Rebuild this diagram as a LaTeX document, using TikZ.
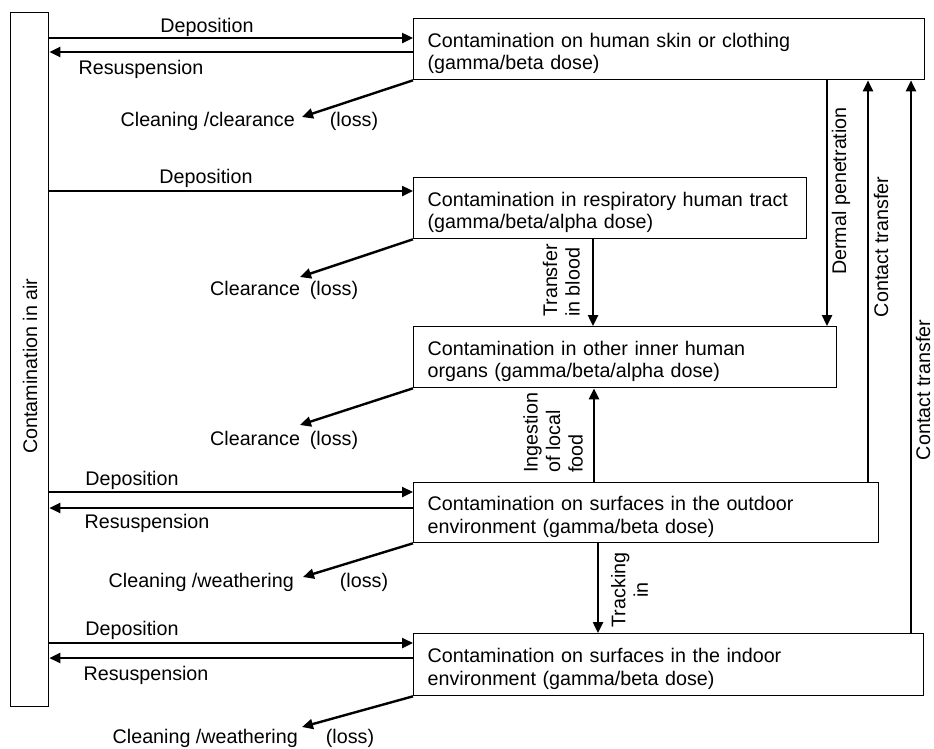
\documentclass[tikz,border=0pt]{standalone}
\usepackage{fontspec}
\setmainfont{Liberation Sans}
\usetikzlibrary{arrows.meta}
\newcommand\boxstrut{\rule{0pt}{23pt}}
\begin{document}
\begin{tikzpicture}[x=1pt,y=-1pt,
  every node/.style={font=\fontsize{19.7}{22.5}\selectfont, inner sep=0pt},
  box/.style={draw, line width=1.3pt, anchor=north west, align=left, inner xsep=14pt, minimum height=61pt},
  arr/.style={line width=2.4pt, -{Triangle[length=11pt,width=10pt]}},
  vlbl/.style={rotate=90, align=left, anchor=south west},
  lbl/.style={anchor=base}]
\useasboundingbox (0,0) rectangle (934,748);
% compartments
\node[draw, line width=1.3pt, anchor=north west, minimum width=38pt, minimum height=694pt] (air) at (10,12) {};
\node[rotate=90, anchor=base] (airtxt) at (37,366) {Contamination in air};
\node[box, text width=483pt] (b1) at (413,18) {\boxstrut Contamination on human skin or clothing\\(gamma/beta dose)};
\node[box, text width=365pt] (b2) at (413,177) {\boxstrut Contamination in respiratory human tract\\(gamma/beta/alpha dose)};
\node[box, text width=395pt] (b3) at (413,326) {\boxstrut Contamination in other inner human\\organs (gamma/beta/alpha dose)};
\node[box, text width=437pt, minimum height=60pt] (b4) at (413,482) {\boxstrut Contamination on surfaces in the outdoor\\environment (gamma/beta dose)};
\node[box, text width=482pt, minimum height=62pt] (b5) at (413,633) {\boxstrut Contamination on surfaces in the indoor\\environment (gamma/beta dose)};
% row y levels
\coordinate (d1) at (0,38);  \coordinate (r1) at (0,52);
\coordinate (d2) at (0,191);
\coordinate (d4) at (0,492); \coordinate (r4) at (0,508);
\coordinate (d5) at (0,643); \coordinate (r5) at (0,658);
% horizontal exchanges
\draw[arr] (air.east |- d1) -- (b1.west |- d1);
\draw[arr] (b1.west |- r1) -- (air.east |- r1);
\draw[arr] (air.east |- d2) -- (b2.west |- d2);
\draw[arr] (air.east |- d4) -- (b4.west |- d4);
\draw[arr] (b4.west |- r4) -- (air.east |- r4);
\draw[arr] (air.east |- d5) -- (b5.west |- d5);
\draw[arr] (b5.west |- r5) -- (air.east |- r5);
\node[lbl] (ld1) at (207,32) {Deposition};
\node[lbl] (lr1) at (141,74) {Resuspension};
\node[lbl] (ld2) at (206,183) {Deposition};
\node[lbl] (ld4) at (132,485) {Deposition};
\node[lbl] (lr4) at (147,528) {Resuspension};
\node[lbl] (ld5) at (132,635) {Deposition};
\node[lbl] (lr5) at (146,680) {Resuspension};
% losses
\coordinate (t1) at (302,117);
\coordinate (t2) at (300,277);
\coordinate (t3) at (300,425);
\coordinate (t4) at (303,577);
\coordinate (t5) at (302,727);
\draw[arr] (b1.south west) -- (t1);
\draw[arr] (b2.south west) -- (t2);
\draw[arr] (b3.south west) -- (t3);
\draw[arr] (b4.south west) -- (t4);
\draw[arr] (b5.south west) -- (t5);
\node[anchor=base east] (c1) at (295,126) {Cleaning /clearance};
\node[lbl] (l1) at (354,126) {(loss)};
\node[anchor=base west] (c2) at (210,295) {Clearance};
\node[lbl] (l2) at (334,295) {(loss)};
\node[anchor=base west] (c3) at (210,445) {Clearance};
\node[lbl] (l3) at (334,445) {(loss)};
\node[anchor=base east] (c4) at (294,587) {Cleaning /weathering};
\node[lbl] (l4) at (364,587) {(loss)};
\node[anchor=base east] (c5) at (298,743) {Cleaning /weathering};
\node[lbl] (l5) at (350,743) {(loss)};
% vertical transfers
\coordinate (xb) at (593,0);
\coordinate (xi) at (594,0);
\coordinate (xt) at (598,0);
\coordinate (xd) at (827,0);
\coordinate (xc1) at (868,0);
\coordinate (xc2) at (911,0);
\draw[arr] (xb |- b2.south) -- (xb |- b3.north);
\draw[arr] (xi |- b4.north) -- (xi |- b3.south);
\draw[arr] (xt |- b4.south) -- (xt |- b5.north);
\draw[arr] (xd |- b1.south) -- (xd |- b3.north);
\draw[arr] (xc1 |- b4.north) -- (xc1 |- b1.south);
\draw[arr] (xc2 |- b5.north) -- (xc2 |- b1.south);
\node[vlbl] (vb) at (580,317) {Transfer\\in blood};
\node[vlbl] (vi) at (583,473) {Ingestion\\of local\\food};
\node[rotate=90, align=center, anchor=south] (vt) at (648,590) {Tracking\\in};
\node[rotate=90, anchor=base] (vd) at (846,191) {Dermal penetration};
\node[rotate=90, anchor=base] (vc1) at (888,247) {Contact transfer};
\node[rotate=90, anchor=base] (vc2) at (930,390) {Contact transfer};
\end{tikzpicture}
\end{document}
